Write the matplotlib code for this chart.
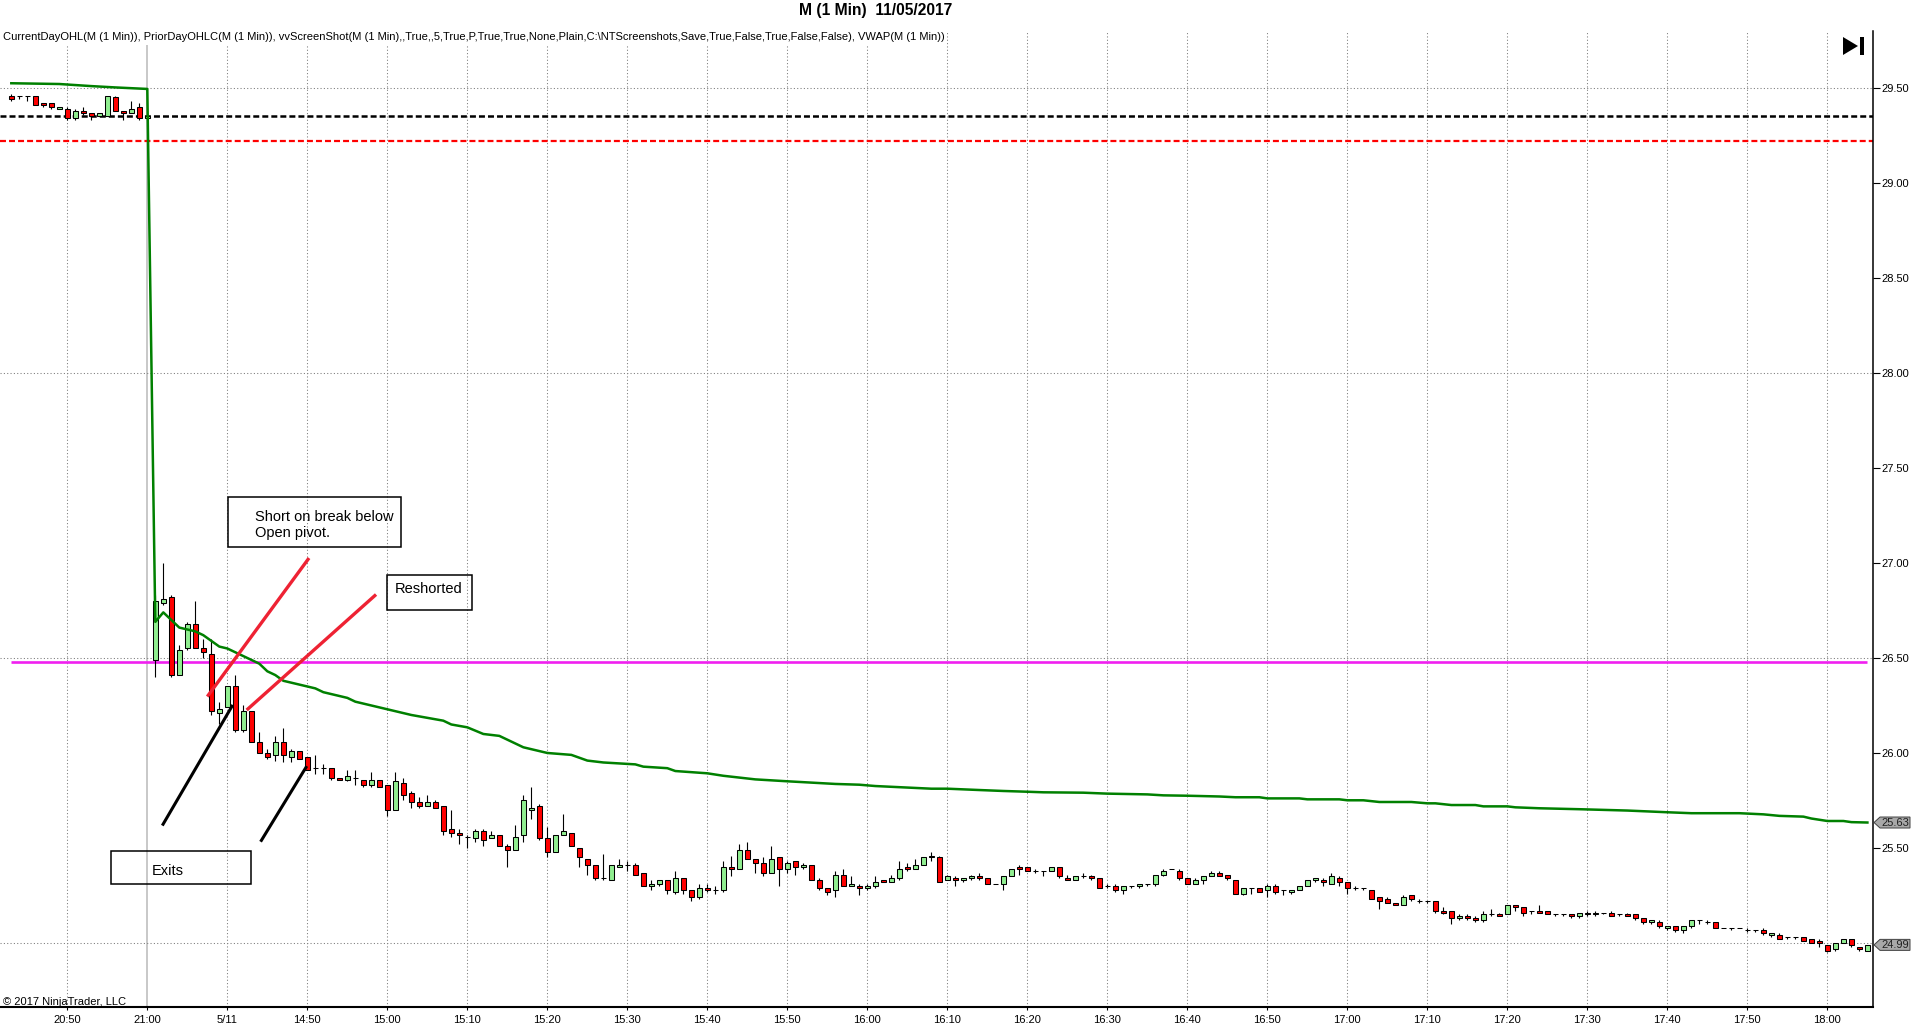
import matplotlib
matplotlib.use('Agg')
import matplotlib.pyplot as plt
import matplotlib.transforms as mtrans
from matplotlib.patches import Polygon, Rectangle

plt.rcParams['font.family'] = ['Liberation Sans', 'DejaVu Sans']
plt.rcParams['lines.scale_dashes'] = False

# ---- chart texts ----
title = 'M (1 Min)  11/05/2017'
indicators = ('CurrentDayOHL(M (1 Min)), PriorDayOHLC(M (1 Min)), vvScreenShot(M (1 Min),,True,,5,True,P,'
              'True,True,None,Plain,C:\\NTScreenshots,Save,True,False,True,False,False), VWAP(M (1 Min))')
copyright_txt = '\u00a9 2017 NinjaTrader, LLC'
time_labels = ['20:50', '21:00', '5/11', '14:50', '15:00', '15:10', '15:20', '15:30', '15:40', '15:50',
               '16:00', '16:10', '16:20', '16:30', '16:40', '16:50', '17:00', '17:10', '17:20', '17:30',
               '17:40', '17:50', '18:00']
price_ticks = [25.5, 26.0, 26.5, 27.0, 27.5, 28.0, 28.5, 29.0, 29.5]
grid_prices = [29.5, 28.0, 26.5, 25.0]

# ---- 1 minute bars: 20:43-21:00 (prior day), 14:31-18:05 (5/11) ----
opens = [29.46, 29.46, 29.46, 29.46, 29.42, 29.42, 29.39, 29.39, 29.34, 29.38,
         29.37, 29.35, 29.35, 29.45, 29.38, 29.37, 29.40, 29.34,
         26.49, 26.79, 26.82, 26.41, 26.55, 26.68, 26.55, 26.52, 26.21, 26.24,
         26.35, 26.12, 26.22, 26.06, 26.00, 25.99, 26.06, 25.98, 26.01, 25.98,
         25.92, 25.92, 25.92, 25.87, 25.86, 25.87, 25.86, 25.83, 25.86, 25.83,
         25.70, 25.84, 25.79, 25.74, 25.72, 25.74, 25.72, 25.60, 25.58, 25.56,
         25.55, 25.59, 25.55, 25.57, 25.51, 25.49, 25.57, 25.70, 25.72, 25.55,
         25.48, 25.57, 25.58, 25.50, 25.44, 25.41, 25.34, 25.33, 25.40, 25.41,
         25.41, 25.37, 25.30, 25.31, 25.33, 25.27, 25.34, 25.28, 25.24, 25.29,
         25.28, 25.28, 25.40, 25.39, 25.49, 25.44, 25.42, 25.37, 25.45, 25.39,
         25.43, 25.40, 25.41, 25.33, 25.29, 25.28, 25.36, 25.30, 25.30, 25.29,
         25.30, 25.33, 25.32, 25.34, 25.40, 25.39, 25.41, 25.45, 25.45, 25.33,
         25.34, 25.33, 25.34, 25.35, 25.34, 25.31, 25.31, 25.35, 25.40, 25.40,
         25.38, 25.38, 25.38, 25.40, 25.34, 25.33, 25.35, 25.35, 25.34, 25.30,
         25.30, 25.28, 25.30, 25.30, 25.31, 25.31, 25.36, 25.39, 25.38, 25.34,
         25.31, 25.33, 25.35, 25.37, 25.36, 25.33, 25.26, 25.29, 25.29, 25.28,
         25.30, 25.28, 25.27, 25.28, 25.30, 25.33, 25.33, 25.31, 25.34, 25.32,
         25.29, 25.29, 25.28, 25.24, 25.23, 25.21, 25.20, 25.25, 25.22, 25.22,
         25.22, 25.17, 25.17, 25.13, 25.14, 25.13, 25.12, 25.15, 25.15, 25.15,
         25.20, 25.19, 25.17, 25.17, 25.17, 25.15, 25.15, 25.15, 25.14, 25.16,
         25.15, 25.16, 25.16, 25.15, 25.15, 25.15, 25.13, 25.11, 25.11, 25.08,
         25.09, 25.07, 25.09, 25.12, 25.11, 25.11, 25.08, 25.08, 25.08, 25.07,
         25.07, 25.07, 25.04, 25.04, 25.03, 25.03, 25.03, 25.02, 25.01, 24.99,
         24.97, 25.00, 25.02, 24.98, 24.96]
highs = [29.47, 29.46, 29.46, 29.46, 29.42, 29.42, 29.40, 29.40, 29.39, 29.40,
         29.37, 29.37, 29.46, 29.46, 29.38, 29.43, 29.42, 29.35,
         26.83, 27.00, 26.83, 26.57, 26.69, 26.80, 26.60, 26.60, 26.27, 26.35,
         26.41, 26.25, 26.22, 26.11, 26.02, 26.09, 26.13, 26.02, 26.01, 25.98,
         25.99, 25.94, 25.92, 25.87, 25.91, 25.91, 25.86, 25.90, 25.86, 25.83,
         25.90, 25.87, 25.80, 25.77, 25.78, 25.75, 25.72, 25.70, 25.60, 25.57,
         25.60, 25.60, 25.59, 25.57, 25.52, 25.62, 25.78, 25.82, 25.73, 25.61,
         25.57, 25.68, 25.58, 25.50, 25.44, 25.41, 25.47, 25.41, 25.44, 25.43,
         25.42, 25.37, 25.33, 25.33, 25.33, 25.38, 25.34, 25.28, 25.31, 25.31,
         25.30, 25.43, 25.46, 25.52, 25.53, 25.44, 25.45, 25.51, 25.45, 25.43,
         25.43, 25.42, 25.41, 25.34, 25.29, 25.38, 25.39, 25.35, 25.31, 25.31,
         25.35, 25.33, 25.36, 25.43, 25.42, 25.44, 25.45, 25.48, 25.46, 25.36,
         25.35, 25.34, 25.36, 25.37, 25.34, 25.31, 25.35, 25.39, 25.41, 25.40,
         25.39, 25.38, 25.40, 25.40, 25.36, 25.35, 25.37, 25.36, 25.34, 25.31,
         25.31, 25.30, 25.30, 25.31, 25.31, 25.36, 25.39, 25.39, 25.39, 25.34,
         25.34, 25.35, 25.38, 25.38, 25.36, 25.33, 25.29, 25.29, 25.29, 25.31,
         25.31, 25.28, 25.28, 25.30, 25.33, 25.34, 25.34, 25.37, 25.35, 25.32,
         25.30, 25.29, 25.28, 25.24, 25.24, 25.21, 25.25, 25.25, 25.23, 25.22,
         25.22, 25.19, 25.17, 25.15, 25.15, 25.14, 25.17, 25.18, 25.16, 25.20,
         25.20, 25.19, 25.17, 25.20, 25.17, 25.15, 25.15, 25.15, 25.16, 25.17,
         25.17, 25.16, 25.17, 25.15, 25.16, 25.15, 25.13, 25.12, 25.12, 25.09,
         25.09, 25.09, 25.12, 25.12, 25.12, 25.11, 25.08, 25.08, 25.08, 25.08,
         25.07, 25.08, 25.05, 25.05, 25.03, 25.03, 25.03, 25.02, 25.02, 24.99,
         25.00, 25.02, 25.02, 24.98, 24.99]
lows = [29.43, 29.44, 29.43, 29.41, 29.40, 29.39, 29.39, 29.33, 29.33, 29.36,
        29.33, 29.35, 29.35, 29.38, 29.33, 29.37, 29.33, 29.33,
        26.40, 26.78, 26.40, 26.41, 26.54, 26.55, 26.50, 26.20, 26.15, 26.24,
        26.11, 26.11, 26.06, 26.00, 25.97, 25.96, 25.95, 25.95, 25.97, 25.91,
        25.89, 25.89, 25.86, 25.86, 25.85, 25.83, 25.82, 25.82, 25.82, 25.67,
        25.70, 25.75, 25.71, 25.71, 25.72, 25.71, 25.57, 25.56, 25.52, 25.50,
        25.53, 25.51, 25.55, 25.51, 25.40, 25.49, 25.53, 25.65, 25.54, 25.45,
        25.48, 25.57, 25.51, 25.40, 25.36, 25.33, 25.33, 25.33, 25.40, 25.38,
        25.36, 25.30, 25.28, 25.30, 25.26, 25.26, 25.26, 25.22, 25.23, 25.27,
        25.26, 25.27, 25.35, 25.39, 25.44, 25.37, 25.35, 25.37, 25.30, 25.37,
        25.36, 25.39, 25.33, 25.28, 25.25, 25.24, 25.30, 25.30, 25.25, 25.28,
        25.29, 25.32, 25.32, 25.33, 25.38, 25.39, 25.41, 25.43, 25.32, 25.33,
        25.30, 25.32, 25.33, 25.33, 25.31, 25.31, 25.28, 25.35, 25.36, 25.38,
        25.37, 25.35, 25.38, 25.34, 25.33, 25.33, 25.34, 25.33, 25.29, 25.29,
        25.27, 25.26, 25.29, 25.29, 25.30, 25.30, 25.35, 25.39, 25.33, 25.31,
        25.31, 25.31, 25.35, 25.35, 25.33, 25.26, 25.25, 25.26, 25.27, 25.24,
        25.26, 25.25, 25.26, 25.28, 25.30, 25.32, 25.30, 25.31, 25.30, 25.26,
        25.28, 25.28, 25.23, 25.18, 25.21, 25.20, 25.20, 25.22, 25.21, 25.21,
        25.16, 25.15, 25.10, 25.12, 25.12, 25.11, 25.11, 25.14, 25.14, 25.15,
        25.17, 25.14, 25.15, 25.16, 25.15, 25.14, 25.14, 25.13, 25.13, 25.14,
        25.14, 25.15, 25.14, 25.14, 25.14, 25.12, 25.10, 25.10, 25.08, 25.07,
        25.06, 25.05, 25.08, 25.10, 25.10, 25.08, 25.08, 25.07, 25.08, 25.06,
        25.06, 25.04, 25.03, 25.02, 25.02, 25.02, 25.01, 25.00, 24.98, 24.95,
        24.96, 25.00, 24.98, 24.96, 24.96]
closes = [29.44, 29.46, 29.46, 29.41, 29.41, 29.40, 29.40, 29.34, 29.38, 29.37,
          29.35, 29.37, 29.46, 29.38, 29.37, 29.39, 29.34, 29.35,
          26.80, 26.81, 26.41, 26.54, 26.68, 26.55, 26.53, 26.22, 26.23, 26.35,
          26.12, 26.22, 26.06, 26.00, 25.98, 26.06, 25.99, 26.01, 25.97, 25.91,
          25.92, 25.92, 25.87, 25.86, 25.88, 25.87, 25.83, 25.86, 25.82, 25.70,
          25.85, 25.78, 25.74, 25.72, 25.74, 25.71, 25.59, 25.58, 25.57, 25.56,
          25.59, 25.54, 25.57, 25.51, 25.49, 25.56, 25.75, 25.71, 25.55, 25.48,
          25.57, 25.59, 25.51, 25.45, 25.41, 25.34, 25.34, 25.41, 25.41, 25.41,
          25.36, 25.30, 25.31, 25.33, 25.28, 25.34, 25.28, 25.24, 25.29, 25.28,
          25.28, 25.40, 25.39, 25.49, 25.44, 25.42, 25.37, 25.44, 25.39, 25.42,
          25.40, 25.41, 25.33, 25.29, 25.27, 25.36, 25.30, 25.31, 25.29, 25.30,
          25.32, 25.32, 25.34, 25.39, 25.39, 25.41, 25.45, 25.46, 25.32, 25.35,
          25.33, 25.34, 25.35, 25.34, 25.31, 25.31, 25.35, 25.39, 25.39, 25.38,
          25.38, 25.38, 25.40, 25.35, 25.33, 25.35, 25.35, 25.34, 25.29, 25.30,
          25.28, 25.30, 25.30, 25.31, 25.31, 25.36, 25.38, 25.39, 25.34, 25.31,
          25.33, 25.35, 25.37, 25.35, 25.34, 25.26, 25.29, 25.29, 25.27, 25.30,
          25.27, 25.28, 25.28, 25.30, 25.33, 25.34, 25.32, 25.35, 25.32, 25.29,
          25.29, 25.29, 25.23, 25.22, 25.21, 25.20, 25.24, 25.23, 25.22, 25.22,
          25.17, 25.16, 25.13, 25.14, 25.13, 25.12, 25.15, 25.15, 25.14, 25.20,
          25.19, 25.16, 25.17, 25.16, 25.15, 25.15, 25.15, 25.14, 25.16, 25.15,
          25.16, 25.16, 25.14, 25.15, 25.14, 25.13, 25.11, 25.12, 25.09, 25.09,
          25.07, 25.09, 25.12, 25.12, 25.11, 25.08, 25.08, 25.08, 25.08, 25.07,
          25.07, 25.05, 25.05, 25.02, 25.03, 25.03, 25.01, 25.00, 25.00, 24.96,
          25.00, 25.02, 24.99, 24.97, 24.99]

# VWAP read at these bars
vwap_bar = [0, 6, 10, 13, 17,
            18, 19, 20, 21, 22, 23, 24, 25, 26, 27, 28, 29, 30, 31, 32, 33, 34, 35, 36, 37,
            38, 39, 40, 41, 42, 43,
            47, 50, 54, 55, 57, 59, 61, 64, 67, 70, 72, 74, 78, 79, 82, 83, 87, 89, 93, 97,
            100, 103, 106, 108, 111, 115, 117, 121, 124, 127, 129, 134, 137, 142, 144, 147,
            151, 153, 156, 157, 161, 162, 166, 167, 169, 171, 175, 177, 178, 180, 183, 184,
            187, 188, 191, 196, 202, 207, 210, 216, 219, 221, 224, 225, 227, 229, 230, 232]
vwap_val = [29.525, 29.521, 29.51, 29.503, 29.495,
            26.69, 26.74, 26.70, 26.66, 26.65, 26.64, 26.62, 26.59, 26.56, 26.55, 26.53, 26.51,
            26.49, 26.47, 26.43, 26.41, 26.38, 26.37, 26.36, 26.35,
            26.34, 26.32, 26.31, 26.30, 26.29, 26.27,
            26.23, 26.20, 26.17, 26.15, 26.135, 26.10, 26.09, 26.03, 26.00, 25.99, 25.96, 25.95,
            25.94, 25.928, 25.92, 25.905, 25.893, 25.88, 25.861, 25.851,
            25.844, 25.837, 25.833, 25.826, 25.82, 25.812, 25.812, 25.805, 25.80, 25.796, 25.793,
            25.791, 25.786, 25.782, 25.777, 25.775,
            25.771, 25.767, 25.767, 25.761, 25.761, 25.756, 25.756, 25.751, 25.751, 25.742,
            25.742, 25.735, 25.735, 25.726, 25.726, 25.719,
            25.719, 25.714, 25.709, 25.704, 25.697, 25.688, 25.683, 25.683, 25.677, 25.669,
            25.665, 25.655, 25.642, 25.642, 25.636, 25.634]

open_level = 29.35       # black dashed
prior_level = 29.22      # red dashed
pivot_level = 26.48      # magenta

# drawn notes (bar, price)
note_text = ['Short on break below\nOpen pivot.', 'Reshorted', 'Exits']
note_x = [30.5, 47.875, 17.55]
note_y = [27.20, 26.863, 25.381]
box_x0 = [27.13, 47.0, 12.5]
box_x1 = [48.68, 57.55, 29.92]
box_lo = [27.086, 26.751, 25.309]
box_hi = [27.346, 26.935, 25.484]
red_x = [(37.21, 24.5), (45.59, 29.42)]
red_y = [(27.026, 26.297), (26.834, 26.226)]
blk_x = [(27.68, 18.875), (36.93, 31.16)]
blk_y = [(26.253, 25.618), (25.931, 25.533)]

W, H = 1920, 1034
fig = plt.figure(figsize=(W / 100, H / 100), dpi=100)
fig.patch.set_facecolor('white')
ax = fig.add_axes([0, (H - 1007) / H, 1873 / W, (1007 - 31) / H])
ax.set_xlim(-1.4125, 232.7)
ax.set_ylim(24.663, 29.80)

n = len(closes)
xs = list(range(n))

# grid
dot = (0, (0.8, 1.6))
tick_bars = [7 + 10 * k for k in range(len(time_labels))]
for tb in tick_bars:
    if time_labels[tick_bars.index(tb)] == '21:00':
        ax.axvline(tb, color='#c4c4c4', lw=1.3, zorder=0)
    else:
        ax.axvline(tb, color='#808080', lw=0.75, ls=dot, zorder=0)
for gp in grid_prices:
    ax.axhline(gp, color='#808080', lw=0.75, ls=dot, zorder=0)

# level lines
ax.axhline(open_level, color='black', lw=1.8, ls=(0, (4.3, 2.2)), zorder=1)
ax.axhline(prior_level, color='#ff0000', lw=1.6, ls=(0, (4.3, 2.2)), zorder=1)
ax.hlines(pivot_level, 0, n - 1, color='#f020f0', lw=1.9, zorder=1)

# candles
ax.vlines(xs, lows, highs, color='black', lw=0.8, zorder=3)
body_bottom = [min(o, c) for o, c in zip(opens, closes)]
body_height = [abs(c - o) for o, c in zip(opens, closes)]
body_color = ['#90ee90' if c > o else ('#ff0000' if c < o else 'black') for o, c in zip(opens, closes)]
ax.bar(xs, body_height, bottom=body_bottom, width=0.6, color=body_color,
       edgecolor='black', linewidth=0.75, zorder=4)

# vwap
ax.plot(vwap_bar, vwap_val, color='#008000', lw=1.8, zorder=5, solid_joinstyle='round')

# notes
for k in range(len(note_text)):
    ax.add_patch(Rectangle((box_x0[k], box_lo[k]), box_x1[k] - box_x0[k], box_hi[k] - box_lo[k],
                           fill=False, edgecolor='black', lw=1.1, zorder=6))
    ax.text(note_x[k], note_y[k], note_text[k], ha='left', va='center', fontsize=10.5,
            color='black', linespacing=1.15, zorder=6)
for (x0, x1), (y0, y1) in zip(red_x, red_y):
    ax.plot([x0, x1], [y0, y1], color='#ee2233', lw=2.4, solid_capstyle='butt', zorder=6)
for (x0, x1), (y0, y1) in zip(blk_x, blk_y):
    ax.plot([x0, x1], [y0, y1], color='black', lw=2.2, solid_capstyle='butt', zorder=6)

# axes look
for s in ['top', 'left']:
    ax.spines[s].set_visible(False)
ax.spines['right'].set_linewidth(1.1)
ax.spines['bottom'].set_linewidth(1.5)
ax.yaxis.tick_right()
ax.set_yticks(price_ticks)
ax.set_yticklabels([f'{p:.2f}' for p in price_ticks])
ax.set_xticks(tick_bars)
ax.set_xticklabels(time_labels)
ax.tick_params(axis='y', direction='out', length=5, width=0.8, pad=1, labelsize=8)
ax.tick_params(axis='x', direction='out', length=2.2, width=0.8, pad=3.5, labelsize=8)

# price markers on the right scale
blend = mtrans.blended_transform_factory(fig.transFigure, ax.transData)
def price_tag(value, txt):
    h = 5.5 / 190
    pts = [(1874 / W, value), (1880 / W, value + h), (1910 / W, value + h),
           (1910 / W, value - h), (1880 / W, value - h)]
    ax.add_patch(Polygon(pts, closed=True, transform=blend, facecolor='#a8a8a8',
                         edgecolor='#404040', lw=0.7, clip_on=False, zorder=7))
    ax.text(1881.5 / W, value, txt, transform=blend, ha='left', va='center',
            fontsize=8, color='#202020', clip_on=False, zorder=8)
price_tag(vwap_val[-1], f'{vwap_val[-1]:.2f}')
price_tag(closes[-1], f'{closes[-1]:.2f}')

# header texts
t_title = fig.text(876 / W, 1 - 10 / H, title, ha='center', va='center', fontsize=11,
                   weight='bold', family=['Liberation Sans Narrow', 'Liberation Sans'])
t_ind = fig.text(3 / W, 1 - 37.5 / H, indicators, ha='left', va='center', fontsize=7.5,
                 family=['Liberation Sans Narrow', 'Liberation Sans'],
                 bbox=dict(facecolor='white', edgecolor='none', pad=1.5), zorder=10)
fig.text(3 / W, 1 - 1002 / H, copyright_txt, ha='left', va='center', fontsize=8)

fig.canvas.draw()
r = fig.canvas.get_renderer()
wi = t_ind.get_window_extent(r).width
t_ind.set_fontsize(7.5 * 939 / wi)
wt = t_title.get_window_extent(r).width
t_title.set_fontsize(11 * 154 / wt)

# end-of-chart button
fig.add_artist(Polygon([(1843 / W, 1 - 37 / H), (1843 / W, 1 - 55 / H), (1858 / W, 1 - 46 / H)],
                       closed=True, transform=fig.transFigure, facecolor='black', edgecolor='none'))
fig.add_artist(Rectangle((1860 / W, 1 - 55 / H), 3.5 / W, 18 / H, transform=fig.transFigure,
                         facecolor='black', edgecolor='none'))

fig.savefig('out.png', dpi=100, facecolor='white')
